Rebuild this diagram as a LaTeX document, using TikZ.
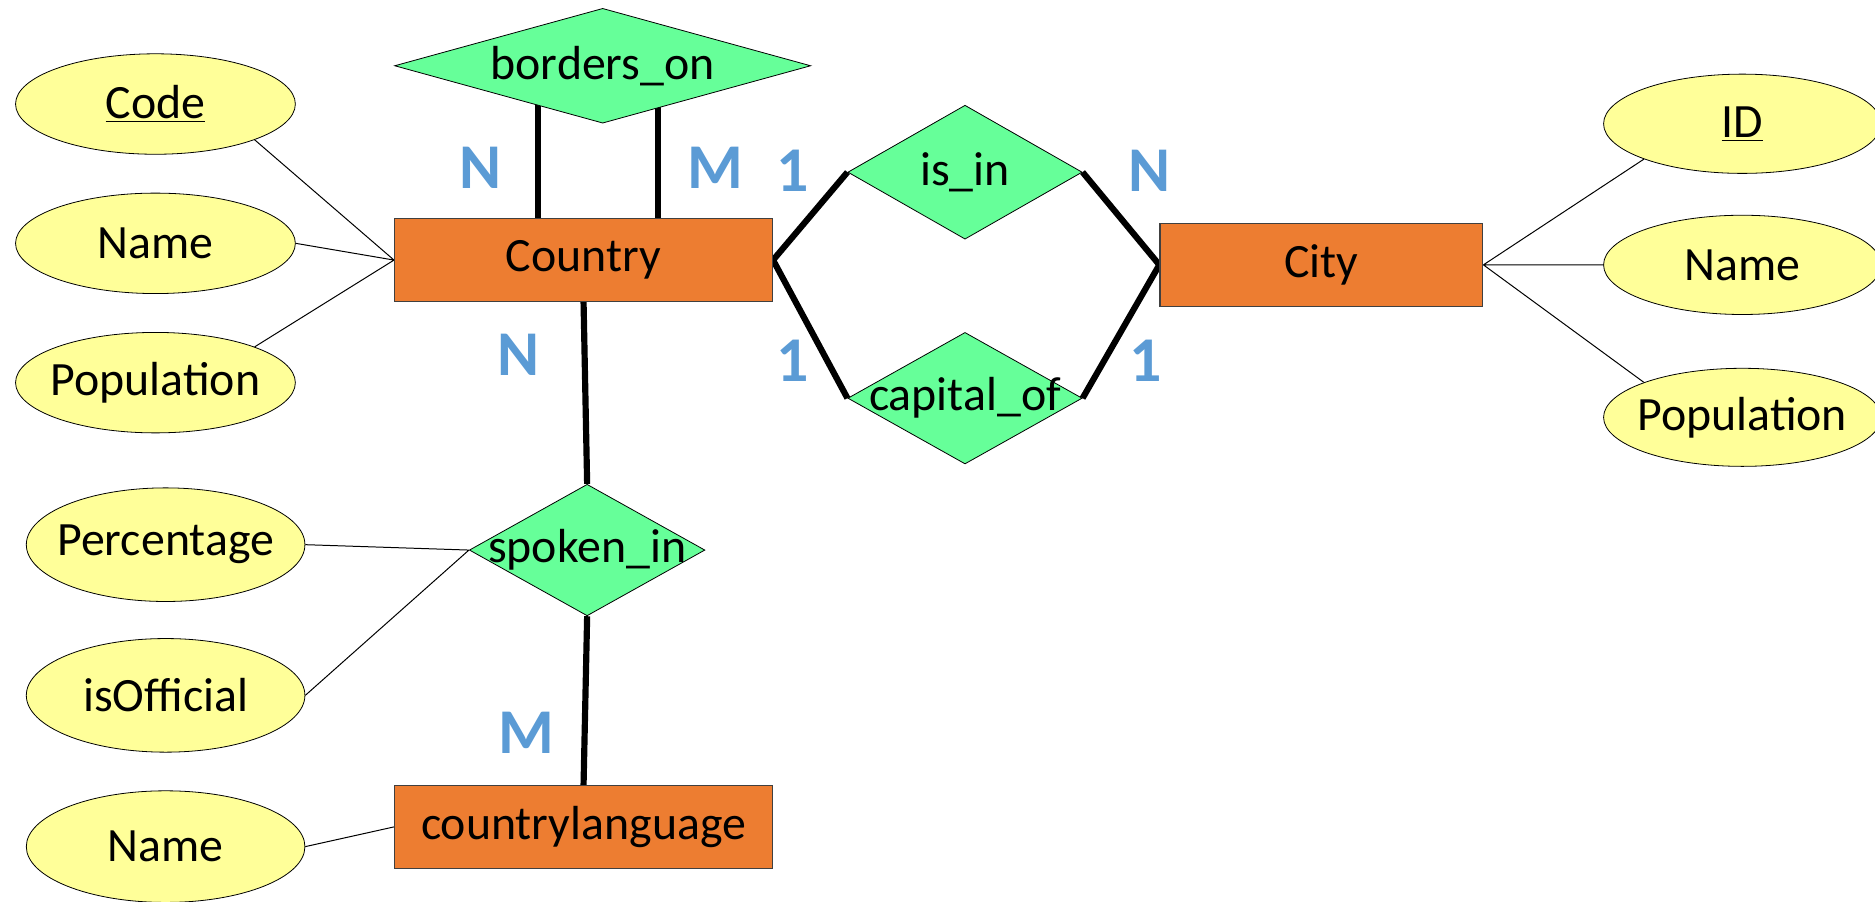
\documentclass[tikz,border=0pt]{standalone}
\usepackage{fontspec}
\setmainfont{Carlito}
\usetikzlibrary{shapes.geometric, positioning, backgrounds}
\definecolor{attrfill}{HTML}{FFFF99}
\definecolor{relfill}{HTML}{66FF99}
\definecolor{entfill}{HTML}{ED7D31}
\definecolor{cardblue}{HTML}{5B9BD5}
\newcommand{\erfont}{\fontsize{24}{28}\selectfont}
\newcommand{\fixed}[1]{\makebox[0pt]{#1}}
\tikzset{
  entity/.style={rectangle, draw=black!75, fill=entfill, line width=0.6pt,
    minimum width=189.6pt, minimum height=41.4pt, inner sep=0pt, font=\erfont},
  rel/.style={diamond, draw, fill=relfill, line width=0.4pt,
    minimum width=117.6pt, minimum height=66pt, inner sep=0pt, font=\erfont},
  attr/.style={ellipse, draw, fill=attrfill, line width=0.4pt,
    minimum width=140.4pt, minimum height=50.4pt, inner sep=0pt, font=\erfont},
  card/.style={text=cardblue, font=\fontsize{32}{36}\selectfont\bfseries},
  link/.style={line width=3.1pt},
  attrlink/.style={line width=0.5pt}
}

\begin{document}
\begin{tikzpicture}[x=0.6pt, y=-0.6pt]
    \useasboundingbox (0,0) rectangle (1568,754);
    % entities
    \node[entity] (cntry) at (488,217.5) {Country};
    \node[entity, minimum width=162pt] (city) at (1105,221.5) {City};
    \node[entity] (lang) at (488,691.5) {countrylanguage};
    % relationships
    \node[rel, minimum width=208.8pt, minimum height=57.6pt] (bord) at (504,55) {\fixed{borders\_on}};
    \node[rel, minimum height=67.2pt] (isin) at (807,144) {\fixed{is\_in}};
    \node[rel] (capof) at (807,333) {\fixed{capital\_of}};
    \node[rel, minimum width=118.2pt] (spoken) at (491,460) {\fixed{spoken\_in}};
    % attributes
    \node[attr] (code) at (130,87) {\fixed{\underline{Code}}};
    \node[attr] (cname) at (130,203.5) {\fixed{Name}};
    \node[attr] (cpop) at (130,320) {\fixed{Population}};
    \node[attr, minimum width=139.2pt, minimum height=49.8pt] (id) at (1457,103.5) {\fixed{\underline{ID}}};
    \node[attr, minimum width=139.2pt, minimum height=49.8pt] (tname) at (1457,221.5) {\fixed{Name}};
    \node[attr, minimum width=139.2pt, minimum height=49.2pt] (tpop) at (1457,349) {\fixed{Population}};
    \node[attr, minimum width=139.8pt, minimum height=57pt] (perc) at (138.5,455.5) {\fixed{Percentage}};
    \node[attr, minimum width=139.8pt, minimum height=57pt] (offic) at (138.5,581.5) {\fixed{isOfficial}};
    \node[attr, minimum width=139.8pt, minimum height=56pt] (lname) at (138.5,708) {\fixed{Name}};
    % connectors
    \begin{scope}[on background layer]
        \draw[link] ([xshift=-32.4pt]bord.center) -- ([xshift=-32.4pt]bord.center |- cntry.north);
        \draw[link] ([xshift=27.6pt]bord.center) -- ([xshift=27.6pt]bord.center |- cntry.north);
        \draw[link] (cntry.east) -- (isin.west)
              (isin.east) -- (city.west)
              (cntry.east) -- (capof.west)
              (capof.east) -- (city.west)
              (cntry.south) -- (spoken.north)
              (spoken.south) -- (lang.north);
        \draw[attrlink] (code.south east) -- (cntry.west)
              (cname.east) -- (cntry.west)
              (cpop.north east) -- (cntry.west)
              (id.south west) -- (city.east)
              (tname.west) -- (city.east)
              (tpop.north west) -- (city.east)
              (perc.east) -- (spoken.west)
              (offic.east) -- (spoken.west)
              (lname.east) -- (lang.west);
    \end{scope}
    % cardinalities
    \node[card] (bn) at (402,140) {N};
    \node[card] (bm) at (598,140) {M};
    \node[card] (in1) at (663,143) {1};
    \node[card] (inn) at (961,143) {N};
    \node[card] (cap1) at (663,302) {1};
    \node[card] (capc) at (958,302) {1};
    \node[card] (sn) at (434,297) {N};
    \node[card] (sm) at (440,613) {M};
\end{tikzpicture}
\end{document}
